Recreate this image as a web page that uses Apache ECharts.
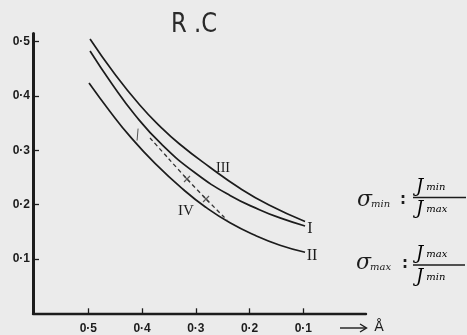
<!DOCTYPE html>
<html><head><meta charset="utf-8">
<script src="https://cdn.jsdelivr.net/npm/echarts@6/dist/echarts.min.js"></script>
<style>html,body{margin:0;padding:0;background:#ebebeb}#c{width:467px;height:335px}</style>
</head><body><div id="c"></div>
<script>
const xTickValues = [0.1, 0.2, 0.3, 0.4, 0.5];
const yTickValues = [0.1, 0.2, 0.3, 0.4, 0.5];
const curveIII = [[0.4968,0.5049],[0.4508,0.4405],[0.4043,0.3834],[0.3671,0.3447],[0.3303,0.3116],[0.2745,0.2693],[0.2187,0.2306],[0.1638,0.1993],[0.0968,0.1690]];
const curveI = [[0.4968,0.4828],[0.4559,0.4221],[0.4131,0.3650],[0.3629,0.3103],[0.3015,0.2586],[0.2364,0.2168],[0.1806,0.1903],[0.1434,0.1756],[0.0968,0.1607]];
const curveII = [[0.4987,0.4239],[0.4597,0.3716],[0.4224,0.3256],[0.3759,0.2759],[0.3201,0.2251],[0.2810,0.1949],[0.2364,0.1666],[0.1899,0.1436],[0.1434,0.1252],[0.0968,0.1123]];
const curveIV = [[0.3852,0.3227],[0.3517,0.2858],[0.3164,0.2472],[0.2810,0.2104],[0.2420,0.1717]];
const crossMarks = [[0.3164,0.2472],[0.2810,0.2104]];
const strayMark = [[0.4074,0.3400],[0.4093,0.3180]];

const ink = '#1c1c1c';
const fmt = v => v.toFixed(1).replace('.', '·');
const chart = echarts.init(document.getElementById('c'), null, {renderer:'canvas'});
const lineSeries = (data, extra) => Object.assign({
  type:'line', data, smooth:0.5, showSymbol:false, symbol:'none',
  lineStyle:{color:ink, width:1.7}, silent:true, animation:false
}, extra || {});
const rt = {
  J:{fontSize:18, fontFamily:'DejaVu Serif', fontStyle:'italic', color:ink},
  s:{fontSize:10, fontFamily:'DejaVu Serif', fontStyle:'italic', color:ink, padding:[0,0,0,3]}
};
chart.setOption({
  backgroundColor:'#ebebeb',
  animation:false,
  grid:{left:33, right:101, top:33.5, bottom:21.7},
  xAxis:{type:'value', inverse:true, min:-0.0166, max:0.6029,
    axisLine:{show:true, onZero:false, lineStyle:{color:ink, width:2.4}},
    axisTick:{show:true, inside:true, length:5, lineStyle:{color:ink, width:1.3}, customValues:xTickValues},
    axisLabel:{show:true, margin:9, color:ink, fontSize:12, fontWeight:'bold', fontFamily:'Liberation Sans', formatter:fmt, customValues:xTickValues},
    splitLine:{show:false}},
  yAxis:{type:'value', min:0, max:0.515, position:'left',
    axisLine:{show:true, onZero:false, lineStyle:{color:ink, width:3}},
    axisTick:{show:true, inside:true, length:6, lineStyle:{color:ink, width:1.3}, customValues:yTickValues},
    axisLabel:{show:true, margin:3, color:ink, fontSize:12, fontWeight:'bold', fontFamily:'Liberation Sans', formatter:fmt, customValues:yTickValues},
    splitLine:{show:false}},
  series:[
    lineSeries(curveIII),
    lineSeries(curveI),
    lineSeries(curveII),
    lineSeries(curveIV, {smooth:0.3, lineStyle:{color:'#333', width:1.3, type:[4,3]}}),
    lineSeries(strayMark, {smooth:false, lineStyle:{color:'#555', width:1}}),
    {type:'scatter', data:crossMarks, symbol:'path://M0,0L10,10M10,0L0,10', symbolSize:6,
      itemStyle:{color:'rgba(0,0,0,0)', borderColor:'#333', borderWidth:1.2}, silent:true}
  ],
  graphic:[
    {type:'text', left:171, top:11, style:{text:'R .C', font:'27px "DejaVu Sans"', fill:'#2a2a2a'}, scaleX:0.84},
    {type:'text', x:223, y:168, style:{text:'III', font:'14px "Liberation Serif"', fill:ink, align:'center', verticalAlign:'middle'}},
    {type:'text', x:186, y:211, style:{text:'IV', font:'15px "Liberation Serif"', fill:ink, align:'center', verticalAlign:'middle'}},
    {type:'text', x:310, y:229, style:{text:'I', font:'16px "Liberation Serif"', fill:ink, align:'center', verticalAlign:'middle'}},
    {type:'text', x:312, y:256, style:{text:'II', font:'16px "Liberation Serif"', fill:ink, align:'center', verticalAlign:'middle'}},
    // formula 1
    {type:'text', x:357, y:200, style:{text:'σ', font:'italic 22px "DejaVu Serif"', fill:ink, verticalAlign:'middle'}},
    {type:'text', x:371, y:204, style:{text:'min', font:'italic 10px "DejaVu Serif"', fill:ink, verticalAlign:'middle'}},
    {type:'text', x:400, y:200, style:{text:':', font:'bold 15px "DejaVu Sans"', fill:ink, verticalAlign:'middle'}},
    {type:'text', x:416, y:196, style:{text:'{J|J}{s|min}', rich:rt, verticalAlign:'bottom'}},
    {type:'line', shape:{x1:413, y1:197.5, x2:466, y2:197.5}, style:{stroke:ink, lineWidth:1.4}},
    {type:'text', x:416, y:200, style:{text:'{J|J}{s|max}', rich:rt, verticalAlign:'top'}},
    // formula 2
    {type:'text', x:356, y:263, style:{text:'σ', font:'italic 22px "DejaVu Serif"', fill:ink, verticalAlign:'middle'}},
    {type:'text', x:370, y:267, style:{text:'max', font:'italic 10px "DejaVu Serif"', fill:ink, verticalAlign:'middle'}},
    {type:'text', x:402, y:264, style:{text:':', font:'bold 15px "DejaVu Sans"', fill:ink, verticalAlign:'middle'}},
    {type:'text', x:416, y:263.5, style:{text:'{J|J}{s|max}', rich:rt, verticalAlign:'bottom'}},
    {type:'line', shape:{x1:413, y1:265, x2:465, y2:265}, style:{stroke:ink, lineWidth:1.4}},
    {type:'text', x:416, y:268, style:{text:'{J|J}{s|min}', rich:rt, verticalAlign:'top'}},
    // arrow and unit
    {type:'line', shape:{x1:340, y1:328, x2:366, y2:328}, style:{stroke:ink, lineWidth:1.4}},
    {type:'polyline', shape:{points:[[360,324],[366.5,328],[360,332]]}, style:{stroke:ink, lineWidth:1.4, fill:null}},
    {type:'text', x:379, y:327, style:{text:'Å', font:'14px "DejaVu Sans"', fill:ink, align:'center', verticalAlign:'middle'}}
  ]
});
</script></body></html>
